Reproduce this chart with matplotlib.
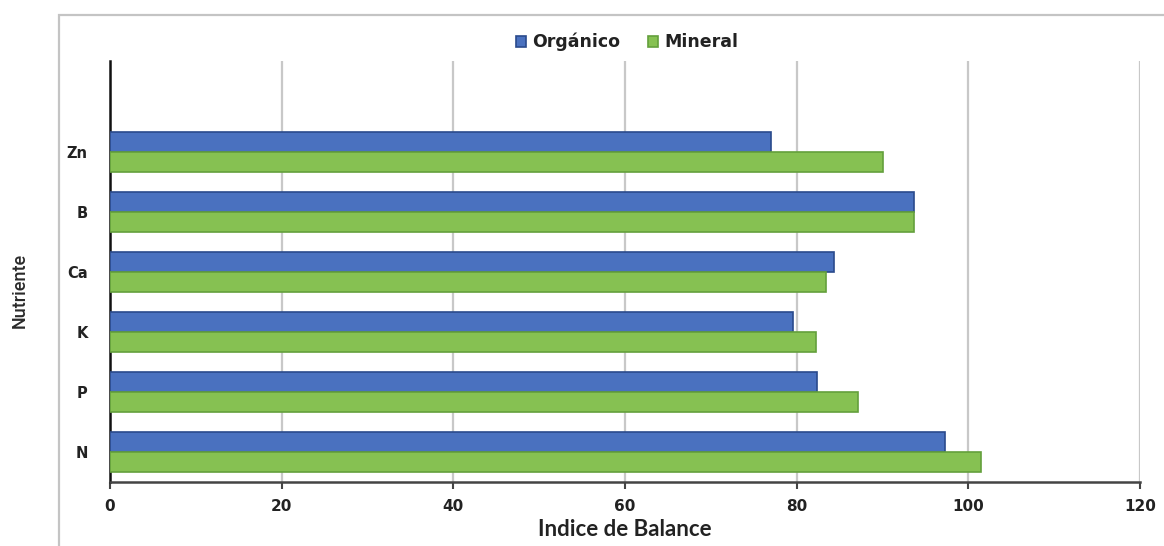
import matplotlib
matplotlib.use("Agg")
import matplotlib.pyplot as plt
import numpy as np
from matplotlib.patches import Rectangle

nutrients = ["N", "P", "K", "Ca", "B", "Zn"]
organico = [97.3, 82.4, 79.6, 84.3, 93.7, 77.0]
mineral = [101.5, 87.2, 82.2, 83.4, 93.7, 90.0]
x_ticks = [0, 20, 40, 60, 80, 100, 120]

fig = plt.figure(figsize=(11.64, 5.46), dpi=100)
ax = fig.add_axes([110 / 1164, 1 - 482 / 546, 1030 / 1164, 421 / 546])

# outer chart frame
fig.patches.append(Rectangle((59 / 1164, -0.1), 1.2, 1.1 - 15 / 546,
                             transform=fig.transFigure, fill=False,
                             edgecolor="#c4c4c4", linewidth=1.6, zorder=0))

y = np.arange(len(nutrients))
h = 0.33
ax.barh(y + h / 2, organico, height=h, color="#4a71bf", edgecolor="#2a4a8c",
        linewidth=1.2, label="Orgánico", zorder=3)
ax.barh(y - h / 2, mineral, height=h, color="#86c152", edgecolor="#64a03c",
        linewidth=1.2, label="Mineral", zorder=3)

ax.set_xlim(0, 120)
ax.set_ylim(-0.5, 6.52)
ax.set_xticks(x_ticks)
ax.set_xticklabels([str(v) for v in x_ticks], fontsize=11, fontweight="bold",
                   color="#222222", family="DejaVu Sans")
ax.set_yticks(y)
ax.set_yticklabels(nutrients, fontsize=10.5, fontweight="bold", color="#222222",
                   family="DejaVu Sans")
ax.tick_params(axis="y", length=0, pad=16)
ax.tick_params(axis="x", length=5, width=1.5, color="#444444", pad=7, direction="out")

ax.grid(axis="x", color="#c8c8c8", linewidth=1.6, zorder=0)
ax.set_axisbelow(True)
for s in ["top", "right"]:
    ax.spines[s].set_visible(False)
ax.spines["left"].set_color("#111111")
ax.spines["left"].set_linewidth(1.8)
ax.spines["bottom"].set_color("#444444")
ax.spines["bottom"].set_linewidth(1.8)

ax.set_xlabel("Indice de Balance", fontsize=16, fontweight="bold",
              family="Lato", color="#222222", labelpad=4)
fig.text(20 / 1164, 1 - 290 / 546, "Nutriente", rotation=90, fontsize=13,
         family="Roboto", fontweight="medium", color="#2a2a2a",
         ha="center", va="center")

leg = fig.legend(loc="center", bbox_to_anchor=(627 / 1164, 1 - 42 / 546), ncol=2,
                 frameon=False, handlelength=0.6, handleheight=0.6,
                 handletextpad=0.35, columnspacing=1.6,
                 prop={"family": "DejaVu Sans", "weight": "bold", "size": 12.5})
for t in leg.get_texts():
    t.set_color("#222222")

fig.savefig("out.png", dpi=100)
